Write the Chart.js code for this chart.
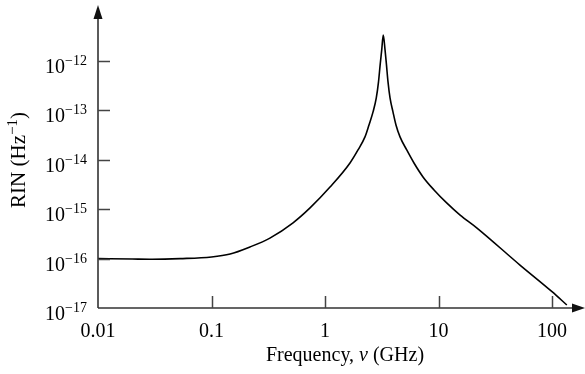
<!DOCTYPE html>
<html>
<head>
<meta charset="utf-8">
<script src="https://cdn.jsdelivr.net/npm/chart.js@4.4.1/dist/chart.umd.min.js"></script>
<style>
  html, body { margin: 0; padding: 0; background: #fff; }
  #wrap { width: 585px; height: 374px; position: relative; }
</style>
</head>
<body>
<div id="wrap"><canvas id="rinChart"></canvas></div>
<script>
// Frequency (GHz) and RIN (1/Hz)
const freqGHz = [0.01, 0.02, 0.03, 0.053, 0.1, 0.146, 0.218, 0.327, 0.523, 0.738,
    1.107, 1.66, 1.953, 2.25, 2.44, 2.65, 2.83, 2.96, 3.06, 3.16,
    3.26, 3.38, 3.48, 3.59, 3.74, 3.97, 4.22, 4.58, 5.25, 6.08,
    7.3, 9.13, 11.8, 15.5, 21.7, 52.2, 100, 135];
const rinValues = [1.0e-16, 0.98e-16, 0.97e-16, 1.0e-16, 1.08e-16, 1.24e-16, 1.72e-16, 2.6e-16, 5.3e-16, 1.06e-15,
    2.8e-15, 8.6e-15, 1.58e-14, 2.9e-14, 5.06e-14, 9.3e-14, 1.78e-13, 3.76e-13, 8.3e-13, 1.67e-12,
    3.36e-12, 1.67e-12, 8.3e-13, 3.76e-13, 1.78e-13, 9.3e-14, 5.06e-14, 2.9e-14, 1.58e-14, 8.6e-15,
    4.5e-15, 2.45e-15, 1.34e-15, 7.6e-16, 4.2e-16, 7.4e-17, 2.14e-17, 1.15e-17];

const xTicks = [0.01, 0.1, 1, 10, 100];
const xTickLabels = ['0.01', '0.1', '1', '10', '100'];
const yTicks = [1e-17, 1e-16, 1e-15, 1e-14, 1e-13, 1e-12];
const yTickExps = ['\u221217', '\u221216', '\u221215', '\u221214', '\u221213', '\u221212'];

const serif = '"Liberation Serif", "Times New Roman", serif';

// Axes with arrows, inward ticks and superscript labels
const axesPlugin = {
    id: 'axesPlugin',
    afterDraw(chart) {
        const ctx = chart.ctx;
        const xs = chart.scales.x;
        const ys = chart.scales.y;
        const area = chart.chartArea;
        const x0 = xs.getPixelForValue(0.01);
        const y0 = ys.getPixelForValue(1e-17);

        ctx.save();
        ctx.strokeStyle = '#333';
        ctx.fillStyle = '#111';
        ctx.lineWidth = 1.6;

        // axis lines
        ctx.beginPath();
        ctx.moveTo(x0, y0);
        ctx.lineTo(x0, area.top - 6);
        ctx.moveTo(x0, y0);
        ctx.lineTo(area.right + 6, y0);
        ctx.stroke();

        // arrowheads
        ctx.beginPath();
        ctx.moveTo(x0, area.top - 13);
        ctx.lineTo(x0 - 4.5, area.top + 1);
        ctx.lineTo(x0 + 4.5, area.top + 1);
        ctx.closePath();
        ctx.fill();
        ctx.beginPath();
        ctx.moveTo(area.right + 10, y0);
        ctx.lineTo(area.right - 3, y0 - 4.5);
        ctx.lineTo(area.right - 3, y0 + 4.5);
        ctx.closePath();
        ctx.fill();

        // ticks
        ctx.lineWidth = 1.5;
        ctx.strokeStyle = '#444';
        ctx.beginPath();
        xTicks.slice(1).forEach(v => {
            const px = Math.round(xs.getPixelForValue(v)) + 0.5;
            ctx.moveTo(px, y0);
            ctx.lineTo(px, y0 - 12);
        });
        yTicks.slice(1).forEach(v => {
            const py = Math.round(ys.getPixelForValue(v)) + 0.5;
            ctx.moveTo(x0, py);
            ctx.lineTo(x0 + 12, py);
        });
        ctx.stroke();

        // x tick labels
        ctx.fillStyle = '#000';
        ctx.font = '20px ' + serif;
        ctx.textAlign = 'center';
        ctx.textBaseline = 'alphabetic';
        xTicks.forEach((v, i) => {
            ctx.fillText(xTickLabels[i], xs.getPixelForValue(v), y0 + 29);
        });

        // y tick labels: 10 with superscript exponent
        yTicks.forEach((v, i) => {
            const py = ys.getPixelForValue(v);
            ctx.font = '14px ' + serif;
            ctx.textAlign = 'right';
            ctx.fillText(yTickExps[i], 87, py + 4);
            const ew = ctx.measureText(yTickExps[i]).width;
            ctx.font = '20px ' + serif;
            ctx.fillText('10', 87 - ew, py + 12);
        });

        // x axis title
        ctx.textAlign = 'left';
        const t1 = 'Frequency, ';
        const t2 = '\u03bd';
        const t3 = ' (GHz)';
        ctx.font = '20px ' + serif;
        const w1 = ctx.measureText(t1).width;
        const w3 = ctx.measureText(t3).width;
        ctx.font = 'italic 20px ' + serif;
        const w2 = ctx.measureText(t2).width;
        const tx = 345 - (w1 + w2 + w3) / 2;
        const ty = 361;
        ctx.font = '20px ' + serif;
        ctx.fillText(t1, tx, ty);
        ctx.font = 'italic 20px ' + serif;
        ctx.fillText(t2, tx + w1, ty);
        ctx.font = '20px ' + serif;
        ctx.fillText(t3, tx + w1 + w2, ty);

        // y axis title (rotated)
        ctx.translate(25, 160);
        ctx.rotate(-Math.PI / 2);
        const a = 'RIN (Hz';
        const b = '\u22121';
        const c = ')';
        ctx.font = '21px ' + serif;
        const wa = ctx.measureText(a).width;
        const wc = ctx.measureText(c).width;
        ctx.font = '15px ' + serif;
        const wb = ctx.measureText(b).width;
        const sx = -(wa + wb + wc) / 2;
        ctx.font = '21px ' + serif;
        ctx.fillText(a, sx, 0);
        ctx.font = '15px ' + serif;
        ctx.fillText(b, sx + wa, -8);
        ctx.font = '21px ' + serif;
        ctx.fillText(c, sx + wa + wb, 0);

        ctx.restore();
    }
};

new Chart(document.getElementById('rinChart'), {
    type: 'line',
    data: {
        datasets: [{
            label: 'RIN',
            data: freqGHz.map((f, i) => ({ x: f, y: rinValues[i] })),
            borderColor: '#000',
            borderWidth: 1.6,
            pointRadius: 0,
            fill: false,
            cubicInterpolationMode: 'monotone'
        }]
    },
    options: {
        responsive: true,
        maintainAspectRatio: false,
        animation: false,
        layout: {
            padding: { left: 98, right: 10, top: 18, bottom: 66 }
        },
        scales: {
            x: {
                type: 'logarithmic',
                display: false,
                min: 0.01,
                max: 159.4
            },
            y: {
                type: 'logarithmic',
                display: false,
                min: 1e-17,
                max: 7.4e-12
            }
        },
        plugins: {
            legend: { display: false },
            tooltip: { enabled: false }
        }
    },
    plugins: [axesPlugin]
});
</script>
</body>
</html>
